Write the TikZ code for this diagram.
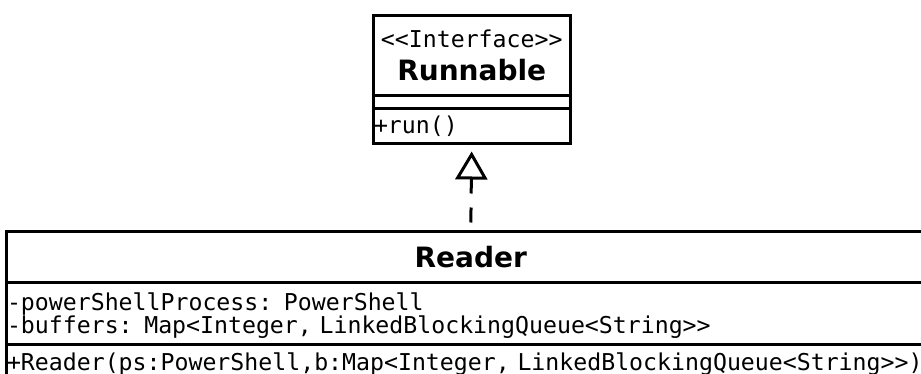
\documentclass[tikz,border=0pt]{standalone}
\usepackage{fontspec}
\setmonofont{DejaVu Sans Mono}
\setsansfont{DejaVu Sans}
\usetikzlibrary{arrows.meta, positioning}
\newcommand{\umlmono}{\ttfamily\fontsize{23.2}{22}\selectfont}
\newcommand{\umlname}{\sffamily\bfseries\fontsize{28}{33}\selectfont}

\begin{document}
\begin{tikzpicture}[
  x=1pt, y=-1pt,
  cls/.style={draw, line width=3pt, outer sep=0pt, inner xsep=0.5pt, inner ysep=0pt,
              font=\umlmono},
  namepart/.style={cls, align=center, text width=#1},
  listpart/.style={cls, align=left, text width=#1},
  implements/.style={line width=3pt, dash pattern=on 15pt off 14pt, dash phase=20pt,
                     -{Triangle[open, length=28pt, width=32pt]}, shorten >=8pt}
]
\useasboundingbox (0,0) rectangle (921,374);
\clip (0,0) rectangle (921,374);

% interface
\node[namepart=195.5pt, minimum height=80pt] (runName) at (471.75,55.5)
  {<<Interface>>\\[11pt]{\umlname Runnable}};
\node[listpart=195.5pt, minimum height=13pt, below=0pt of runName] (runAttrs) {};
\node[listpart=195.5pt, minimum height=35pt, text height=17pt, text depth=1pt,
      below=0pt of runAttrs] (runMethods) {+run()};

% class
\node[namepart=927.5pt, minimum height=50.5pt] (readerName) at (470.75,256.75)
  {\umlname Reader};
\node[listpart=927.5pt, minimum height=62pt, text height=17pt, text depth=23pt,
      below=0pt of readerName] (readerAttrs)
  {-powerShellProcess: PowerShell\\-buffers: Map<Integer, LinkedBlockingQueue<String>>};
\node[listpart=927.5pt, minimum height=35pt, text height=17pt, text depth=0pt,
      below=0pt of readerAttrs] (readerMethods)
  {+Reader(ps:PowerShell,b:Map<Integer, LinkedBlockingQueue<String>>)};

\draw[implements] (readerName.north) -- (runMethods.south);
\end{tikzpicture}
\end{document}
